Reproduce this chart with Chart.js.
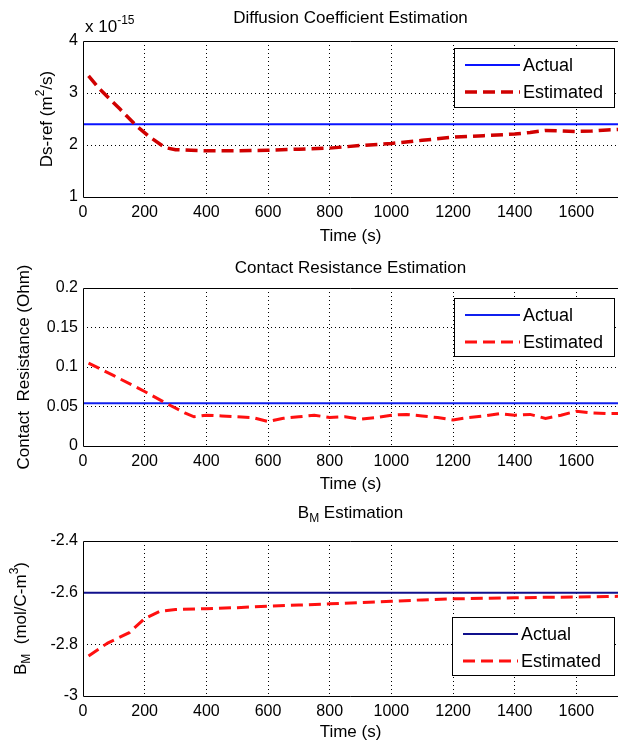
<!DOCTYPE html>
<html>
<head>
<meta charset="utf-8">
<script src="https://cdn.jsdelivr.net/npm/chart.js@4.4.1/dist/chart.umd.min.js"></script>
<style>
  body { margin: 0; background: #fff; }
  canvas { position: absolute; left: 0; }
</style>
</head>
<body>
<canvas id="ds_chart" width="618" height="248" style="top:0"></canvas>
<canvas id="cr_chart" width="618" height="248" style="top:248px"></canvas>
<canvas id="bm_chart" width="618" height="248" style="top:496px"></canvas>
<script>
// time axis (s)
const X_MAX = 1735;
const X_TICKS = [0, 200, 400, 600, 800, 1000, 1200, 1400, 1600];

// Diffusion coefficient (x 10^-15 m^2/s)
const DS_TICKS = [1, 2, 3, 4];
const DS_ACTUAL = 2.4;
const DS_TIME = [18, 55, 120, 175, 215, 266, 300, 350, 400, 500, 600, 700, 800, 900, 1000, 1100, 1200, 1300, 1400, 1450, 1500, 1600, 1650, 1700, 1740];
const DS_EST = [3.33, 3.07, 2.69, 2.36, 2.16, 1.95, 1.91, 1.9, 1.89, 1.89, 1.9, 1.92, 1.94, 1.99, 2.03, 2.09, 2.15, 2.18, 2.21, 2.24, 2.28, 2.26, 2.27, 2.29, 2.3];

// Contact resistance (Ohm)
const CR_TICKS = [0, 0.05, 0.1, 0.15, 0.2];
const CR_ACTUAL = 0.054;
const CR_TIME = [18, 100, 200, 270, 330, 360, 400, 450, 500, 550, 600, 650, 700, 750, 800, 850, 900, 950, 1000, 1050, 1100, 1150, 1200, 1250, 1300, 1350, 1400, 1450, 1500, 1550, 1600, 1650, 1700, 1740];
const CR_EST = [0.105, 0.089, 0.069, 0.054, 0.042, 0.037, 0.039, 0.038, 0.037, 0.036, 0.031, 0.035, 0.037, 0.039, 0.036, 0.037, 0.034, 0.036, 0.039, 0.04, 0.038, 0.036, 0.033, 0.036, 0.038, 0.041, 0.039, 0.04, 0.035, 0.039, 0.044, 0.042, 0.041, 0.041];

// B_M (mol/C-m^3)
const BM_TICKS = [-3, -2.8, -2.6, -2.4];
const BM_ACTUAL = -2.6;
const BM_TIME = [18, 80, 150, 200, 250, 300, 400, 500, 600, 700, 800, 900, 1000, 1100, 1200, 1300, 1400, 1500, 1600, 1700, 1740];
const BM_EST = [-2.845, -2.795, -2.755, -2.7, -2.672, -2.665, -2.662, -2.658, -2.652, -2.648, -2.643, -2.638, -2.633, -2.628, -2.624, -2.622, -2.62, -2.618, -2.617, -2.615, -2.614];

const FONT = "'Liberation Sans', Arial, sans-serif";

function points(xs, ys) {
  return xs.map((x, i) => ({ x: x, y: ys[i] }));
}

// draws text made of [text, 'sup'|'sub'|''] parts
function drawRich(ctx, parts, x, y, size, align) {
  const fontFor = k => (k ? Math.round(size * 0.68) : size) + 'px ' + FONT;
  let total = 0;
  parts.forEach(p => { ctx.font = fontFor(p[1]); total += ctx.measureText(p[0]).width; });
  let cx = align === 'left' ? x : x - total / 2;
  ctx.textAlign = 'left';
  ctx.textBaseline = 'middle';
  parts.forEach(p => {
    ctx.font = fontFor(p[1]);
    const dy = p[1] === 'sub' ? size * 0.35 : p[1] === 'sup' ? -size * 0.4 : 0;
    ctx.fillText(p[0], cx, y + dy);
    cx += ctx.measureText(p[0]).width;
  });
}

// frame, titles, y label and legend box like the matlab figure
const matlabLook = {
  id: 'matlab',
  afterDraw(chart, args, o) {
    const ctx = chart.ctx;
    const a = chart.chartArea;
    ctx.save();
    ctx.strokeStyle = '#000';
    ctx.lineWidth = 1;
    ctx.setLineDash([]);
    ctx.beginPath();
    ctx.moveTo(chart.width, Math.round(a.top) + 0.5);
    ctx.lineTo(Math.round(a.left) + 0.5, Math.round(a.top) + 0.5);
    ctx.lineTo(Math.round(a.left) + 0.5, Math.round(a.bottom) + 0.5);
    ctx.lineTo(chart.width, Math.round(a.bottom) + 0.5);
    ctx.stroke();

    ctx.fillStyle = '#000';
    drawRich(ctx, o.title, (a.left + a.right) / 2, o.titleY, 17);
    if (o.exponent) drawRich(ctx, o.exponent, 85, 27, 17, 'left');

    ctx.save();
    ctx.translate(o.labelX, (a.top + a.bottom) / 2);
    ctx.rotate(-Math.PI / 2);
    drawRich(ctx, o.yLabel, 0, 0, 17);
    ctx.restore();

    // legend
    const L = o.legend;
    ctx.fillStyle = '#fff';
    ctx.fillRect(L.x, L.y, L.w, L.h);
    ctx.strokeRect(L.x + 0.5, L.y + 0.5, L.w, L.h);
    chart.data.datasets.forEach((ds, i) => {
      const ly = L.y + 17 + i * 27;
      ctx.strokeStyle = ds.borderColor;
      ctx.lineWidth = ds.borderWidth;
      ctx.setLineDash(ds.borderDash || []);
      ctx.beginPath();
      ctx.moveTo(L.x + 11, ly);
      ctx.lineTo(L.x + 66, ly);
      ctx.stroke();
      ctx.fillStyle = '#000';
      ctx.font = '18px ' + FONT;
      ctx.textAlign = 'left';
      ctx.textBaseline = 'middle';
      ctx.fillText(ds.label, L.x + 69, ly + 1);
    });
    ctx.restore();
  }
};

function makeChart(id, cfg) {
  const edgeless = (lo, hi) => c => (c.tick.value === lo || c.tick.value === hi) ? 'rgba(0,0,0,0)' : '#000';
  return new Chart(document.getElementById(id), {
    type: 'line',
    data: {
      datasets: [
        {
          label: 'Actual',
          data: points([0, X_MAX], [cfg.actual, cfg.actual]),
          borderColor: cfg.blue,
          borderWidth: 2,
          pointRadius: 0,
          order: 1
        },
        {
          label: 'Estimated',
          data: points(cfg.time, cfg.est),
          borderColor: cfg.red,
          borderWidth: cfg.redWidth,
          borderDash: [12, 6],
          pointRadius: 0,
          order: 0
        }
      ]
    },
    options: {
      responsive: false,
      animation: false,
      layout: { padding: { top: cfg.top, right: 0, left: 0, bottom: 0 } },
      plugins: {
        legend: { display: false },
        tooltip: { enabled: false },
        matlab: cfg.deco
      },
      scales: {
        x: {
          type: 'linear',
          min: 0,
          max: X_MAX,
          afterBuildTicks: s => { s.ticks = X_TICKS.map(v => ({ value: v })); },
          afterFit: s => { s.height = cfg.xHeight; },
          ticks: { color: '#000', font: { family: FONT, size: 16 }, padding: 6, maxRotation: 0, callback: v => String(v) },
          grid: { color: edgeless(0, X_MAX), lineWidth: 1, drawTicks: false },
          border: { display: false, dash: [1, 3] },
          title: { display: true, text: 'Time (s)', color: '#000', font: { family: FONT, size: 17 }, padding: { top: 0, bottom: 1 } }
        },
        y: {
          min: cfg.ticks[0],
          max: cfg.ticks[cfg.ticks.length - 1],
          afterBuildTicks: s => { s.ticks = cfg.ticks.map(v => ({ value: v })); },
          afterFit: s => { s.width = 83; },
          ticks: { color: '#000', font: { family: FONT, size: 16 }, padding: 5, callback: v => String(v) },
          grid: { color: edgeless(cfg.ticks[0], cfg.ticks[cfg.ticks.length - 1]), lineWidth: 1, drawTicks: false },
          border: { display: false, dash: [1, 3] }
        }
      }
    },
    plugins: [matlabLook]
  });
}

makeChart('ds_chart', {
  actual: DS_ACTUAL, time: DS_TIME, est: DS_EST, ticks: DS_TICKS,
  blue: '#0a14ff', red: '#d00000', redWidth: 3.5, top: 41, xHeight: 51,
  deco: {
    title: [['Diffusion Coefficient Estimation', '']], titleY: 18,
    exponent: [['x 10', ''], ['-15', 'sup']],
    yLabel: [['Ds-ref (m', ''], ['2', 'sup'], ['/s)', '']], labelX: 47,
    legend: { x: 454, y: 48, w: 160, h: 59 }
  }
});

makeChart('cr_chart', {
  actual: CR_ACTUAL, time: CR_TIME, est: CR_EST, ticks: CR_TICKS,
  blue: '#1020ee', red: '#ff1010', redWidth: 3, top: 40, xHeight: 50,
  deco: {
    title: [['Contact Resistance Estimation', '']], titleY: 20,
    yLabel: [['Contact  Resistance (Ohm)', '']], labelX: 24,
    legend: { x: 454, y: 50, w: 160, h: 58 }
  }
});

makeChart('bm_chart', {
  actual: BM_ACTUAL, time: BM_TIME, est: BM_EST, ticks: BM_TICKS,
  blue: '#10108c', red: '#ff1010', redWidth: 3, top: 45, xHeight: 48,
  deco: {
    title: [['B', ''], ['M', 'sub'], [' Estimation', '']], titleY: 17,
    yLabel: [['B', ''], ['M', 'sub'], ['  (mol/C-m', ''], ['3', 'sup'], [')', '']], labelX: 21,
    legend: { x: 452, y: 121, w: 162, h: 58 }
  }
});
</script>
</body>
</html>
